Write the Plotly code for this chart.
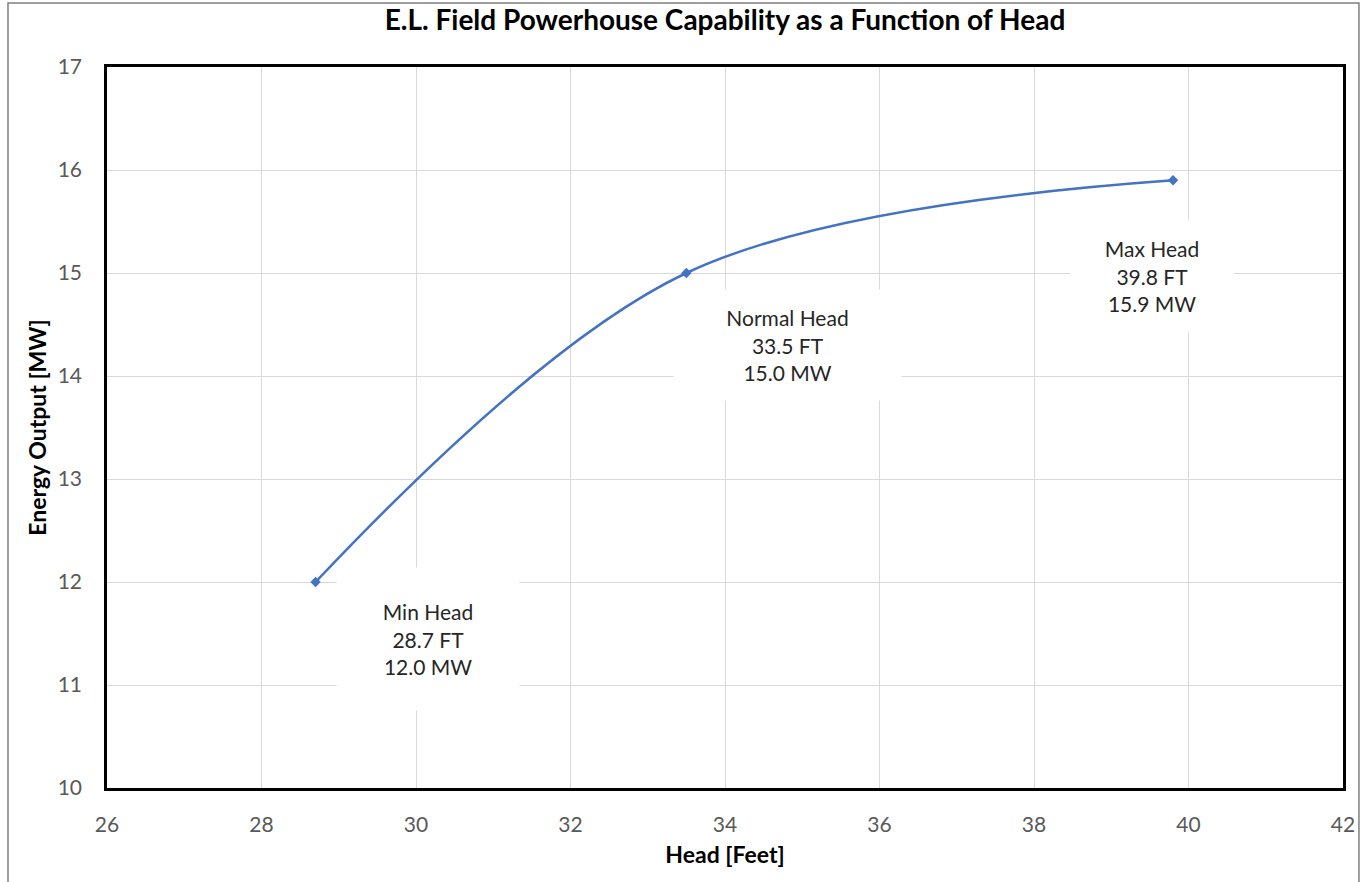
import plotly.graph_objects as go

head_ft = [28.7, 33.5, 39.8]
output_mw = [12.0, 15.0, 15.9]
labels = ["Min Head", "Normal Head", "Max Head"]
x_ticks = [26, 28, 30, 32, 34, 36, 38, 40, 42]
y_ticks = [10, 11, 12, 13, 14, 15, 16, 17]

FONT = "Lato, Carlito, Calibri, sans-serif"
BLUE = "#4472C4"

fig = go.Figure()
fig.add_trace(go.Scatter(
    x=head_ft, y=output_mw, mode="lines+markers",
    line=dict(color=BLUE, width=2.5, shape="spline", smoothing=1.0),
    marker=dict(symbol="diamond", size=8, color=BLUE),
    showlegend=False, hoverinfo="x+y",
))

# label boxes (white, covering gridlines): (ax, ay, width, height) in px
offsets = [(112, 57, 180, 140), (101, 72, 225, 108), (-21, 96, 160, 110)]
for x, y, lab, (ax, ay, w, h) in zip(head_ft, output_mw, labels, offsets):
    fig.add_annotation(
        x=x, y=y, xref="x", yref="y",
        text=f"{lab}<br>{x:.1f} FT<br>{y:.1f} MW",
        showarrow=True, arrowcolor="rgba(0,0,0,0)", ax=ax, ay=ay,
        width=w, height=h, bgcolor="white", align="center",
        font=dict(family=FONT, size=21, color="#262626"),
    )

# outer frame of the chart area
fig.add_shape(type="rect", xref="paper", yref="paper",
              x0=-0.0801, x1=1.0129, y0=-0.15, y1=1.0888,
              line=dict(color="#7f7f7f", width=1.5), layer="below")

fig.update_layout(
    width=1367, height=882,
    margin=dict(l=107, r=24, t=67, b=94),
    paper_bgcolor="white", plot_bgcolor="white",
    font=dict(family=FONT),
    title=dict(text="<b>E.L. Field Powerhouse Capability as a Function of Head</b>",
               x=0.5, xref="paper", y=0.977, yanchor="middle",
               font=dict(family=FONT, size=28, color="#000000")),
    xaxis=dict(
        range=[26, 42], tickvals=x_ticks, ticktext=[str(v) for v in x_ticks],
        showgrid=True, gridcolor="#d9d9d9", gridwidth=1,
        showline=True, linecolor="black", linewidth=2.5, mirror=True,
        ticks="outside", ticklen=16, tickcolor="rgba(0,0,0,0)",
        tickfont=dict(family=FONT, size=21, color="#595959"),
        title=dict(text="<b>Head [Feet]</b>", standoff=12,
                   font=dict(family=FONT, size=23, color="#000000")),
        zeroline=False,
    ),
    yaxis=dict(
        range=[10, 17], tickvals=y_ticks, ticktext=[str(v) for v in y_ticks],
        showgrid=True, gridcolor="#d9d9d9", gridwidth=1,
        showline=True, linecolor="black", linewidth=2.5, mirror=True,
        ticks="outside", ticklen=18, tickcolor="rgba(0,0,0,0)",
        tickfont=dict(family=FONT, size=21, color="#595959"),
        title=dict(text="<b>Energy Output [MW]</b>", standoff=5,
                   font=dict(family=FONT, size=23, color="#000000")),
        zeroline=False,
    ),
)

fig.write_html("out.html")
